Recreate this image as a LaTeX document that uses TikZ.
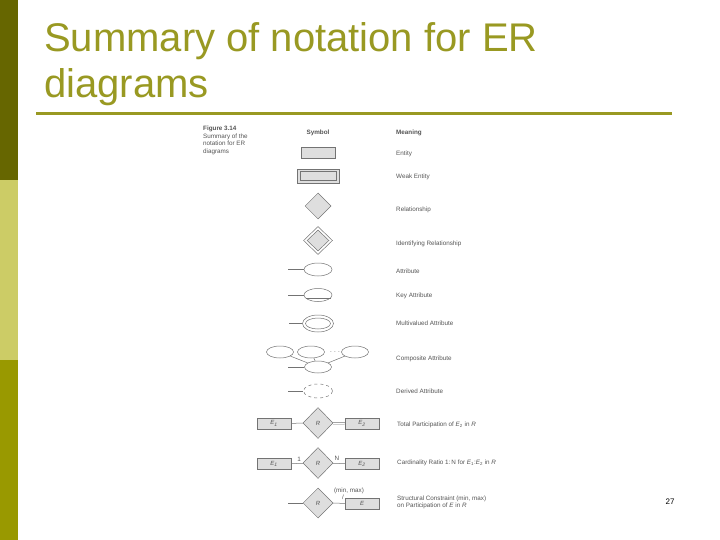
\documentclass[tikz,border=0pt]{standalone}
\usepackage{fontspec}
\setmainfont{Liberation Sans}
\usetikzlibrary{shapes.geometric}
\definecolor{olivedark}{RGB}{102,102,0}
\definecolor{olivelight}{RGB}{204,204,102}
\definecolor{olivemid}{RGB}{153,153,0}
\definecolor{titlecol}{RGB}{153,153,34}
\definecolor{figtext}{RGB}{85,85,85}
\definecolor{figfill}{RGB}{222,222,222}
\definecolor{figline}{RGB}{115,115,115}
\begin{document}
\begin{tikzpicture}[x=1pt,y=-1pt,
  figtxt/.style={font=\fontsize{6.3}{7.5}\selectfont, text=figtext, inner sep=0},
  fighead/.style={figtxt, font=\fontsize{6.3}{7.5}\selectfont\bfseries},
  meaning/.style={figtxt, anchor=west},
  lnk/.style={draw=figline, line width=0.5pt},
  ent/.style={draw=figline, fill=figfill, line width=0.5pt, rectangle, minimum width=34pt, minimum height=11pt, inner sep=0, font=\fontsize{6}{7}\selectfont\itshape, text=figtext},
  weakout/.style={draw=figline, fill=figfill, line width=0.7pt, rectangle, minimum width=42pt, minimum height=14pt, inner sep=0},
  weakin/.style={draw=figline, line width=0.5pt, rectangle, minimum width=36pt, minimum height=9pt, inner sep=0},
  rel/.style={draw=figline, fill=figfill, line width=0.5pt, diamond, minimum width=26pt, minimum height=26pt, inner sep=0, font=\fontsize{6}{7}\selectfont\itshape, text=figtext},
  bigrel/.style={rel, minimum width=30pt, minimum height=31pt},
  idout/.style={draw=figline, line width=0.5pt, diamond, minimum width=29pt, minimum height=28pt, inner sep=0},
  idin/.style={rel, minimum width=22pt, minimum height=21pt},
  attr/.style={draw=figline, line width=0.5pt, ellipse, minimum width=28pt, minimum height=13pt, inner sep=0},
]
\useasboundingbox (0,0) rectangle (720,540);
\fill[white] (0,0) rectangle (720,540);
% left bars
\fill[olivedark] (0,0) rectangle (18,180);
\fill[olivelight] (0,180) rectangle (18,360);
\fill[olivemid] (0,360) rectangle (18,540);
% title
\node[anchor=base west, inner sep=0, text=titlecol, font=\fontsize{40}{46}\selectfont] (t1) at (44,52) {Summary of notation for ER};
\node[anchor=base west, inner sep=0, text=titlecol, font=\fontsize{40}{46}\selectfont] (t2) at (44,98) {diagrams};
\draw[titlecol, line width=3pt] (36,114) -- (672,114);
% page number
\node[font=\fontsize{8}{9}\selectfont, inner sep=0] (pn) at (670,502) {27};

% figure caption
\node[figtxt, anchor=north west, align=left] (cap) at (203,126) {\textbf{Figure 3.14}\\Summary of the\\notation for ER\\diagrams};
\node[fighead] (hsym) at (318,133) {Symbol};
\node[fighead, anchor=west] (hmean) at (396,133) {Meaning};

% entity
\node[ent] (ent) at (318,153) {};
\node[meaning] (m1) at (396,154) {Entity};
% weak entity
\node[weakout] (weak) at (318,176) {};
\node[weakin] (weakin) at (weak) {};
\node[meaning] (m2) at (396,177) {Weak Entity};
% relationship
\node[rel] (rel) at (318,206) {};
\node[meaning] (m3) at (396,210) {Relationship};
% identifying relationship
\node[idout] (idr) at (318,240.5) {};
\node[idin] (idrin) at (idr) {};
\node[meaning] (m4) at (396,244) {Identifying Relationship};
% attribute
\node[attr] (at) at (318,269.5) {};
\coordinate (atl) at (288,269.5);
\draw[lnk] (atl) -- (at);
\node[meaning] (m5) at (396,271) {Attribute};
% key attribute
\node[attr] (ka) at (318,295) {};
\coordinate (kal) at (288,295);
\draw[lnk, line width=0.8pt] (kal) -- (ka);
\draw[lnk] ([shift={(-12.5,3)}]ka.center) -- ([shift={(12.5,3)}]ka.center);
\node[meaning] (m6) at (396,296) {Key Attribute};
% multivalued
\node[attr, minimum width=31pt, minimum height=17pt] (mv) at (318,323.5) {};
\node[attr, minimum width=25pt, minimum height=11pt] (mvin) at (mv) {};
\coordinate (mvl) at (289,323.5);
\draw[lnk] (mvl) -- (mv);
\node[meaning] (m7) at (396,323) {Multivalued Attribute};
% composite
\node[attr, minimum width=27pt, minimum height=12pt] (c1) at (280,352) {};
\node[attr, minimum width=27pt, minimum height=12pt] (c2) at (311,352) {};
\node[attr, minimum width=27pt, minimum height=12pt] (c3) at (355,352) {};
\node[figtxt] (cdots) at (335,352) {. . .};
\node[attr, minimum width=27pt, minimum height=12pt] (cb) at (318,367) {};
\draw[lnk] (c1) -- (cb);
\draw[lnk] (c2) -- (cb);
\draw[lnk] (c3) -- (cb);
\coordinate (cbl) at (288,367);
\draw[lnk] (cbl) -- (cb);
\node[meaning] (m8) at (396,359) {Composite Attribute};
% derived
\node[attr, dashed, minimum width=29pt, minimum height=14pt] (dv) at (318,391) {};
\coordinate (dvl) at (288,391);
\draw[lnk] (dvl) -- (dv);
\node[meaning] (m9) at (396,391) {Derived Attribute};
% total participation
\node[ent] (tE1) at (274,423.5) {E\textsubscript{1}};
\node[bigrel] (tR) at (318,423) {R};
\node[ent] (tE2) at (362,423.5) {E\textsubscript{2}};
\draw[lnk] (tE1) -- (tR);
\draw[lnk, double, double distance=1.2pt] (tR) -- (tE2);
\node[meaning] (m10) at (397,425) {Total Participation of \textit{E}\textsubscript{2} in \textit{R}};
% cardinality
\node[ent] (cE1) at (274,464) {E\textsubscript{1}};
\node[bigrel] (cR) at (318,463) {R};
\node[ent] (cE2) at (362,464) {E\textsubscript{2}};
\draw[lnk] (cE1) -- (cR);
\draw[lnk] (cR) -- (cE2);
\node[figtxt] (c1lab) at (299,459) {1};
\node[figtxt] (cNlab) at (337,458) {N};
\node[meaning] (m11) at (397,463) {Cardinality Ratio 1:\,N for \textit{E}\textsubscript{1}:\textit{E}\textsubscript{2} in \textit{R}};
% structural constraint
\node[bigrel, minimum height=30pt] (sR) at (318,503) {R};
\node[ent] (sE) at (362,503.5) {E};
\coordinate (sl) at (288,503);
\draw[lnk] (sl) -- (sR);
\draw[lnk] (sR) -- (sE);
\node[figtxt] (mm) at (349,491) {(min, max)};
\node[figtxt] (slash) at (343,497.5) {/};
\node[meaning, align=left] (m12) at (397,502.5) {Structural Constraint (min, max)\\on Participation of \textit{E} in \textit{R}};
\end{tikzpicture}
\end{document}
